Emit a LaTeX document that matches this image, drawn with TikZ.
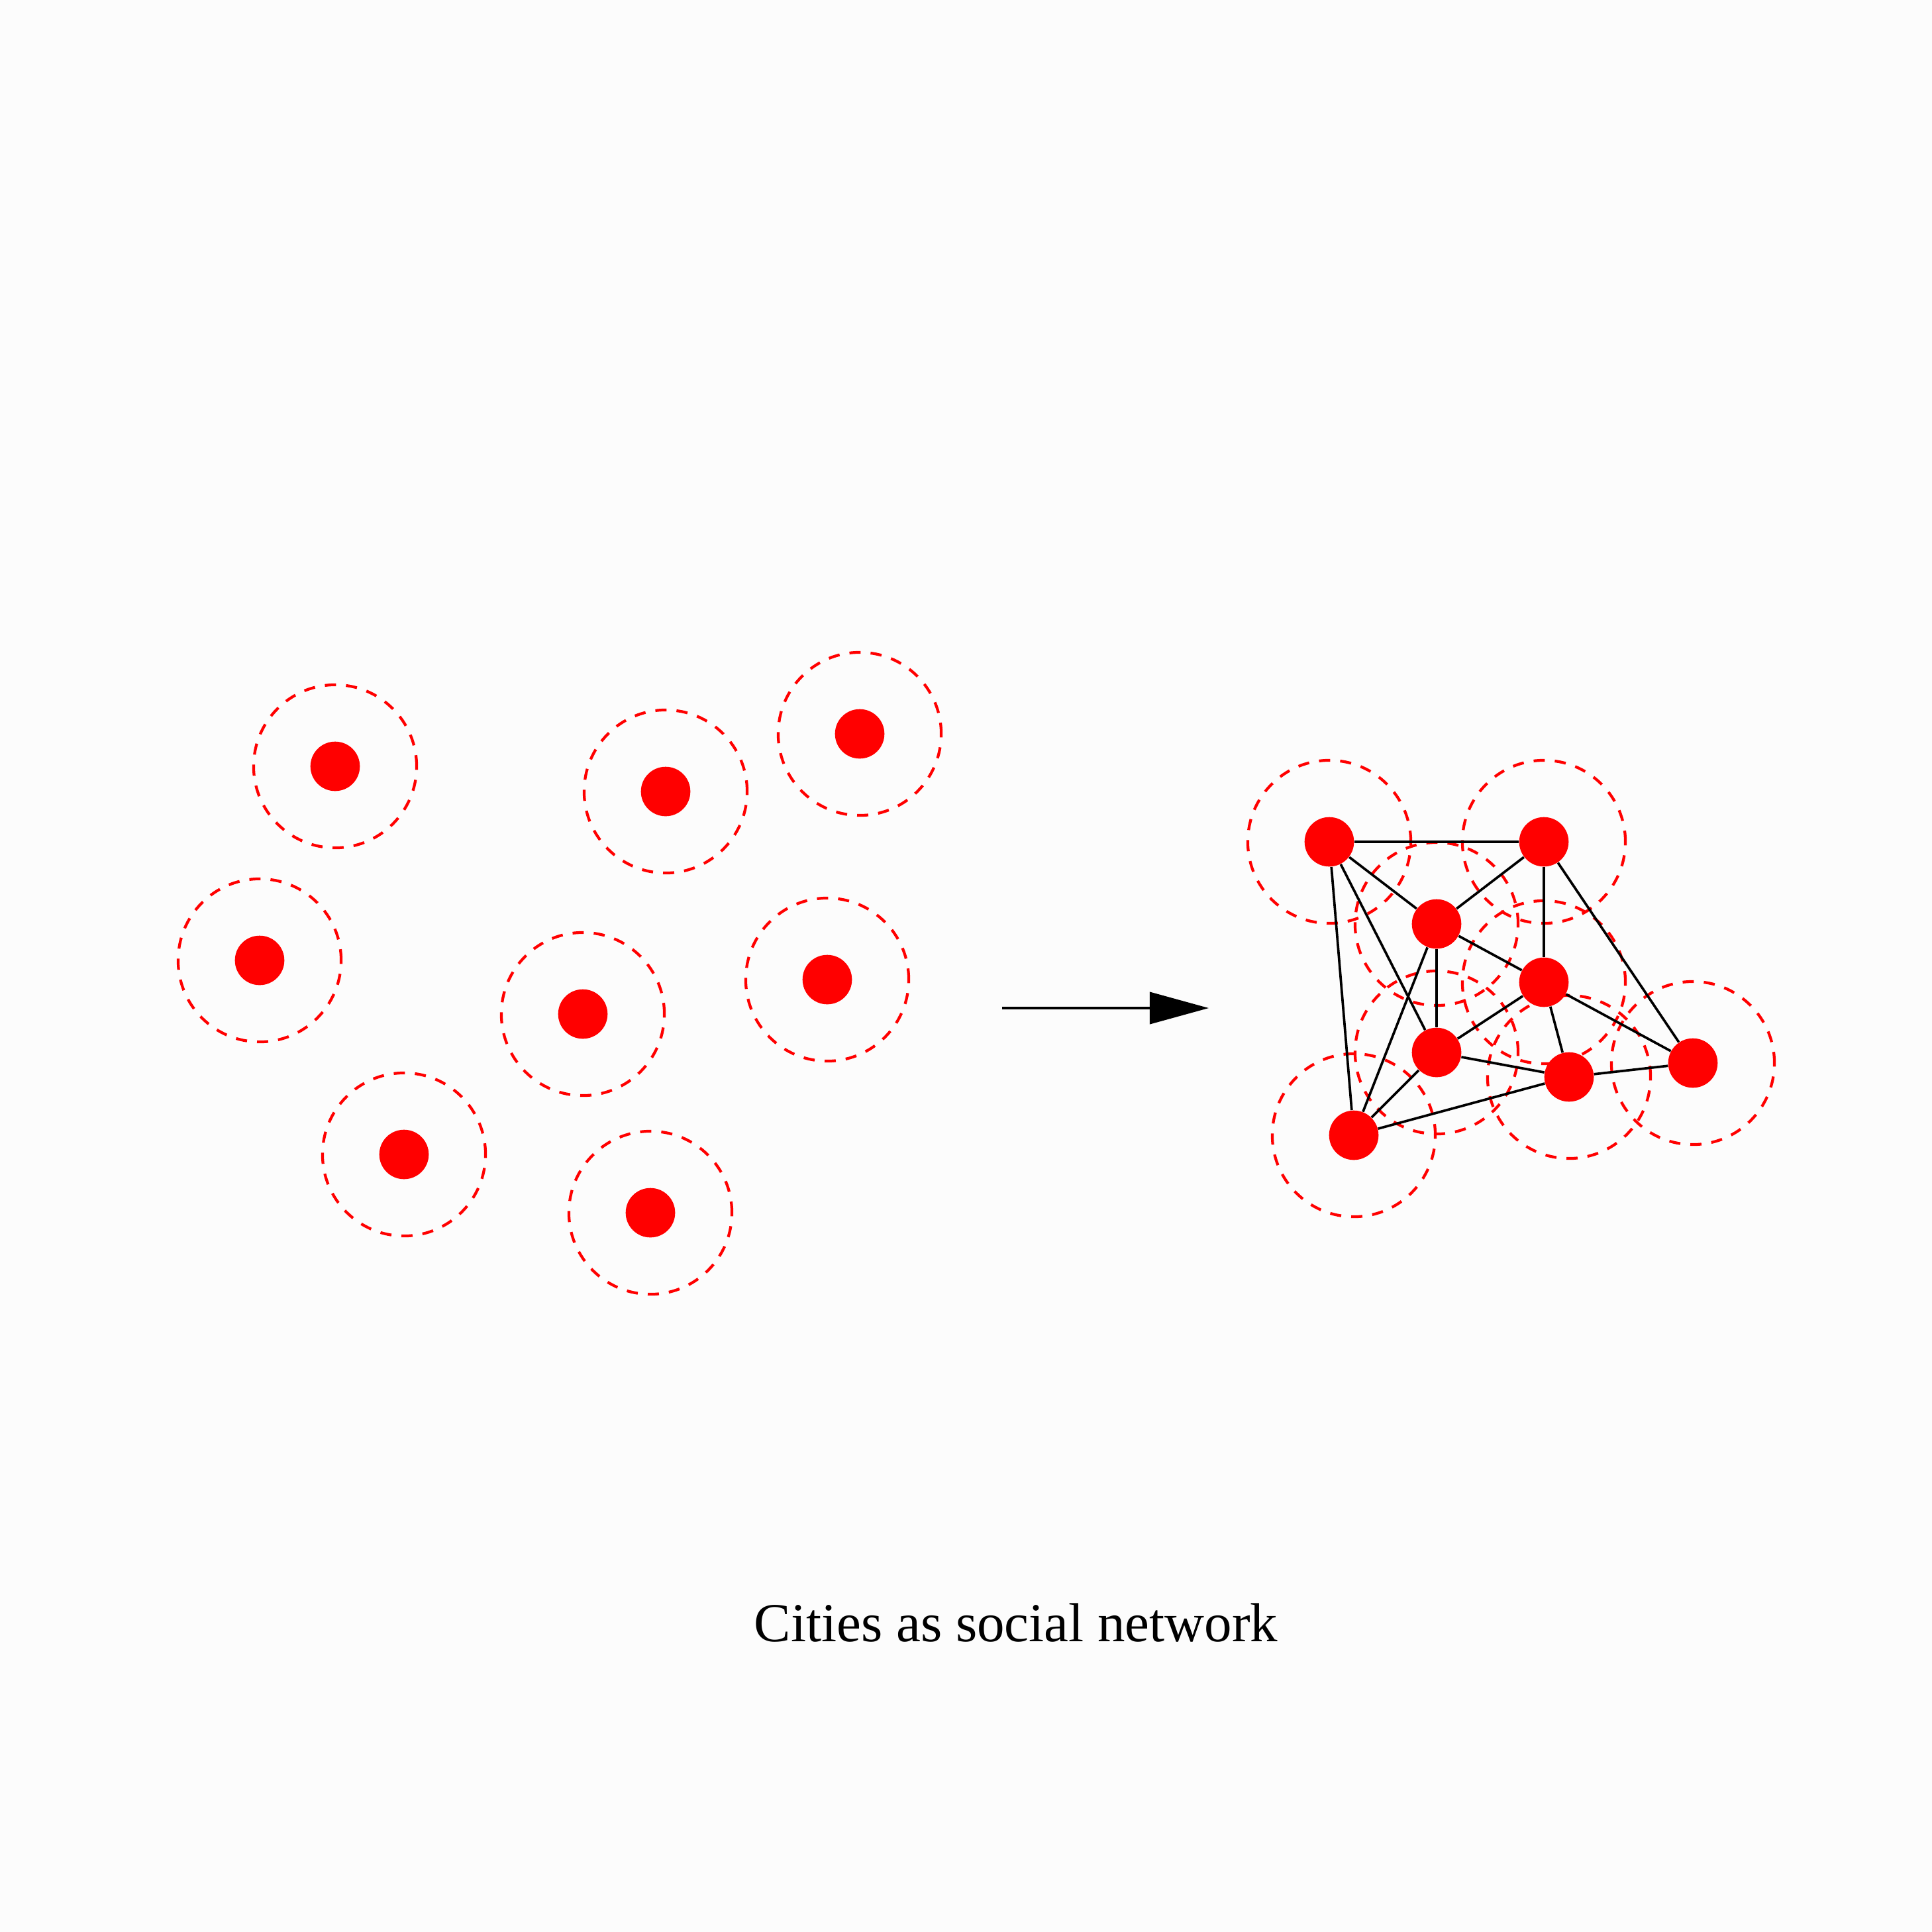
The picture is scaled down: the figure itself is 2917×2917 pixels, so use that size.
\documentclass[tikz,border=0pt]{standalone}
\usepackage{fontspec}
\setmainfont{Liberation Serif}
\usetikzlibrary{arrows.meta,backgrounds}
\definecolor{paper}{RGB}{252,252,252}
\definecolor{cityred}{RGB}{255,0,0}
\begin{document}
\begin{tikzpicture}[x = 0.01cm, y = -0.01cm,
        city/.style = {circle, fill = cityred, inner sep = 0pt, minimum size = 0.746cm},
        ring/.style = {cityred, line width = 1.2pt, dash pattern = on 4.8pt off 4.3pt},
        link/.style = {black, line width = 1.05pt},
        flow/.style = {black, line width = 1.05pt, -{Triangle[length = 0.89cm, width = 0.48cm]}}]
        \useasboundingbox (0, 0) rectangle (2917, 2917);
        \node[city] (0) at (506, 1157) {};
        \node[city] (1) at (1005, 1195) {};
        \node[city] (2) at (1298, 1108) {};
        \node[city] (3) at (392, 1450) {};
        \node[city] (4) at (880, 1531) {};
        \node[city] (5) at (1249, 1479) {};
        \node[city] (6) at (610, 1743) {};
        \node[city] (7) at (982, 1831) {};
        \node[city] (8) at (2007, 1271) {};
        \node[city] (9) at (2331, 1271) {};
        \node[city] (10) at (2169, 1395) {};
        \node[city] (11) at (2331, 1483) {};
        \node[city] (12) at (2169, 1589) {};
        \node[city] (13) at (2369, 1626) {};
        \node[city] (14) at (2556, 1605) {};
        \node[city] (15) at (2044, 1714) {};
        \coordinate (go) at (1513, 1522);
        \coordinate (stop) at (1825, 1522);
        \node (caption) at (1534, 2478) [anchor = base]
            {\fontsize{23.6pt}{28pt}\selectfont Cities as social network};
        \begin{scope}[on background layer]
            \fill[paper] (0, 0) rectangle (2917, 2917);
            \foreach \n in {0, ..., 15}
                \draw[ring] (\n) circle (1.23cm);
            \foreach \a/\b in {8/9, 8/10, 8/12, 8/15, 9/10, 9/11, 9/14, 10/11, 10/12,
                    10/15, 11/12, 11/13, 11/14, 12/13, 12/15, 13/14, 13/15}
                \draw[link] (\a) -- (\b);
        \end{scope}
        \draw[flow] (go) -- (stop);
    \end{tikzpicture}
\end{document}
